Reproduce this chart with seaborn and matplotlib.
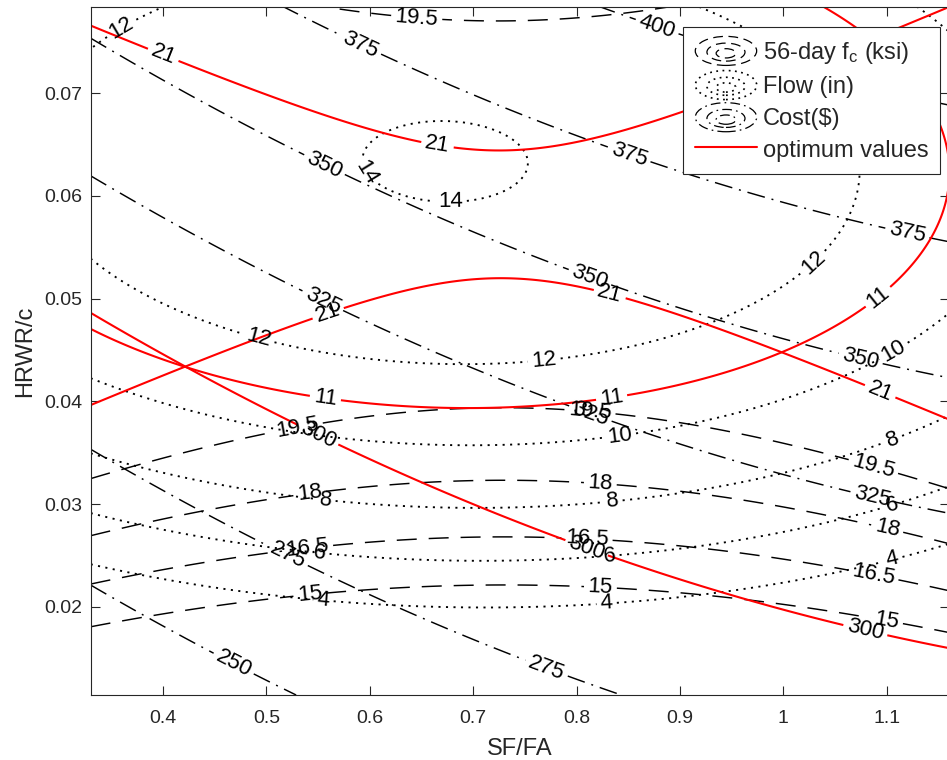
import numpy as np
import pandas as pd
import matplotlib
matplotlib.use("Agg")
import matplotlib.pyplot as plt
import seaborn as sns
from matplotlib.legend_handler import HandlerBase
from matplotlib.lines import Line2D
from matplotlib.patches import Ellipse
from matplotlib.ticker import FuncFormatter

fc_x = [0.33, 0.436, 0.561, 0.694, 0.823, 0.99, 1.10, 1.158,
        0.33, 0.436, 0.571, 0.694, 0.81, 0.861, 1.023, 1.087, 1.158,
        0.33, 0.436, 0.542, 0.713, 0.823, 0.968, 1.054, 1.10, 1.158,
        0.33, 0.513, 0.684, 0.774, 0.861, 0.958, 1.054, 1.158,
        0.564, 0.646, 0.694, 0.79, 0.823,
        0.33, 0.424, 0.581, 0.709, 0.774, 0.854, 1.0, 1.077, 1.158,
        0.33, 0.383, 0.421, 0.532, 0.645, 0.733, 0.823, 0.903, 1.112]
fc_y = [0.0180, 0.0200, 0.0216, 0.0217, 0.0219, 0.0203, 0.0186, 0.0179,
        0.0223, 0.0245, 0.0262, 0.0268, 0.0265, 0.0263, 0.0238, 0.0231, 0.0216,
        0.0268, 0.0292, 0.0309, 0.0323, 0.0320, 0.0304, 0.0281, 0.0274, 0.0262,
        0.0323, 0.0372, 0.0393, 0.0394, 0.0388, 0.0365, 0.0352, 0.0320,
        0.0783, 0.0769, 0.0768, 0.0771, 0.0783,
        0.0394, 0.0433, 0.0492, 0.0521, 0.0518, 0.0499, 0.0447, 0.0416, 0.0382,
        0.0767, 0.0745, 0.0729, 0.0687, 0.0653, 0.0643, 0.0655, 0.0681, 0.0765]
fc_v = [15] * 8 + [16.5] * 9 + [18] * 9 + [19.5] * 8 + [19.5] * 5 + [21] * 9 + [21] * 9

flow_x = [0.33, 0.516, 0.555, 0.829, 0.958, 1.054, 1.106, 1.158,
          0.33, 0.50, 0.555, 0.832, 0.861, 0.99, 1.106, 1.158,
          0.33, 0.532, 0.574, 0.816, 1.106,
          0.33, 0.436, 0.513, 0.581, 0.816, 1.054, 1.106, 1.158, 1.139,
          0.33, 0.424, 0.536, 0.687, 0.813, 0.861, 1.0, 1.074, 1.135, 1.151, 1.158, 1.035, 1.067,
          0.33, 0.423, 0.494, 0.742, 0.79, 0.939, 1.006, 1.042, 1.074, 0.919, 0.958, 0.33, 0.38,
          0.603, 0.625, 0.668, 0.72, 0.752, 0.735, 0.68, 0.625,
          0.603, 0.668, 0.752, 0.68]
flow_y = [0.0242, 0.0211, 0.0204, 0.0205, 0.0219, 0.0237, 0.0245, 0.0262,
          0.0292, 0.0258, 0.0248, 0.0247, 0.0253, 0.0268, 0.0297, 0.0316,
          0.0352, 0.0306, 0.0300, 0.0306, 0.0362,
          0.0423, 0.0391, 0.0372, 0.0362, 0.0364, 0.0424, 0.0445, 0.0484, 0.0781,
          0.0470, 0.0433, 0.0406, 0.0394, 0.0399, 0.0408, 0.0447, 0.0487, 0.0547, 0.0609, 0.0667, 0.0784, 0.0765,
          0.0538, 0.0489, 0.0460, 0.0437, 0.0442, 0.0479, 0.0515, 0.0547, 0.0618, 0.0781, 0.0766, 0.0748, 0.0778,
          0.0643, 0.0662, 0.0669, 0.0662, 0.0630, 0.0604, 0.0596, 0.0606,
          0.0643, 0.0669, 0.0630, 0.0596]
flow_v = [4] * 8 + [6] * 8 + [8] * 5 + [10] * 9 + [11] * 13 + [12] * 13 + [14] * 12

cost_x = [0.33, 0.387, 0.452, 0.532,
          0.33, 0.381, 0.436, 0.51, 0.629, 0.694, 0.771, 0.842,
          0.33, 0.424, 0.532, 0.583, 0.646, 0.713, 0.79, 0.842, 0.861, 0.948, 1.054, 1.11, 1.158,
          0.33, 0.474, 0.581, 0.777, 0.861, 1.054, 1.12, 1.158,
          0.33, 0.581, 0.765, 0.861, 1.054, 1.158,
          0.516, 0.62, 0.823, 0.874, 1.081, 1.158]
cost_y = [0.0223, 0.0190, 0.0146, 0.0115,
          0.0354, 0.0323, 0.0292, 0.0248, 0.0200, 0.0177, 0.0140, 0.0116,
          0.0487, 0.0433, 0.0377, 0.0352, 0.0323, 0.0297, 0.0265, 0.0247, 0.0240, 0.0209, 0.0183, 0.0169, 0.0159,
          0.0620, 0.0541, 0.0486, 0.0398, 0.0372, 0.0313, 0.0301, 0.0291,
          0.0755, 0.0615, 0.0538, 0.0502, 0.0447, 0.0424,
          0.0784, 0.0732, 0.0651, 0.0632, 0.0580, 0.0552]
cost_v = [250] * 4 + [275] * 8 + [300] * 13 + [325] * 8 + [350] * 6 + [375] * 6

fc_levels = [15, 16.5, 18, 19.5]
flow_levels = [4, 6, 8, 10, 12, 14]
cost_levels = [250, 275, 325, 350, 375, 400]
fc_opt, flow_opt, cost_opt = 21, 11, 300

# where the inline labels sit
fc_lab = [(0.645, 0.0769), (0.53, 0.0375), (0.813, 0.0390), (1.087, 0.0336),
          (0.542, 0.0309), (0.823, 0.0320), (1.10, 0.0274),
          (0.54, 0.0255), (0.81, 0.0265), (1.087, 0.0231),
          (0.542, 0.0211), (0.823, 0.0217), (1.10, 0.0186)]
fc_opt_lab = [(0.40, 0.0737), (0.665, 0.0647), (0.561, 0.0482), (0.832, 0.0504), (1.093, 0.0408)]
flow_lab = [(0.36, 0.0762), (0.600, 0.0625), (0.678, 0.0594), (0.492, 0.046), (0.769, 0.0438),
            (1.029, 0.0535), (0.842, 0.0365), (1.106, 0.045), (0.557, 0.0303), (0.835, 0.030),
            (1.106, 0.0362), (0.551, 0.0250), (0.832, 0.0247), (1.106, 0.0297), (0.555, 0.0204),
            (0.829, 0.0205), (1.106, 0.0245)]
flow_opt_lab = [(0.557, 0.0403), (0.834, 0.0403), (1.093, 0.050)]
cost_lab = [(0.59, 0.0745), (0.849, 0.0635), (1.12, 0.0564), (0.555, 0.0628), (0.813, 0.0521),
            (1.074, 0.0438), (0.555, 0.0499), (0.813, 0.0387), (1.086, 0.0306), (0.877, 0.0762),
            (0.523, 0.0255), (0.771, 0.014), (0.468, 0.0144)]
cost_opt_lab = [(0.552, 0.0372), (0.81, 0.0258), (1.08, 0.018)]


def fit_surface(xs, ys, vs):
    # second order response surface through the read points
    d = pd.DataFrame({"x": xs, "y": ys, "v": vs})
    u = (d.x - 0.75) / 0.4
    w = (d.y - 0.045) / 0.034
    A = np.column_stack([np.ones(len(d)), u, w, u * u, u * w, w * w])
    coef, *_ = np.linalg.lstsq(A, d.v.values, rcond=None)
    return coef


def surface(coef, X, Y):
    u = (X - 0.75) / 0.4
    w = (Y - 0.045) / 0.034
    return coef[0] + coef[1] * u + coef[2] * w + coef[3] * u * u + coef[4] * u * w + coef[5] * w * w


sns.set_style("ticks")
plt.rcParams["font.family"] = ["Liberation Sans", "DejaVu Sans"]
plt.rcParams["mathtext.default"] = "regular"
plt.rcParams["lines.scale_dashes"] = False

xg = np.linspace(0.33, 1.16, 400)
yg = np.linspace(0.0114, 0.0785, 400)
X, Y = np.meshgrid(xg, yg)
FC = surface(fit_surface(fc_x, fc_y, fc_v), X, Y)
FLOW = surface(fit_surface(flow_x, flow_y, flow_v), X, Y)
COST = surface(fit_surface(cost_x, cost_y, cost_v), X, Y)

ls_fc = (0, (14.4, 8.6))
ls_flow = (0, (1.5, 3.9))
ls_cost = (0, (13, 5, 1.4, 5))
red = "#ff0000"

fig = plt.figure(figsize=(9.47, 7.6), dpi=100)
ax = fig.add_axes([90.7 / 947, 65 / 760, 858 / 947, 688 / 760])

lab_kw = dict(inline=True, fontsize=16, fmt="%g", colors="black", inline_spacing=4)

c1 = ax.contour(X, Y, FC, levels=fc_levels, colors="black", linewidths=1.05, linestyles=[ls_fc])
ax.clabel(c1, manual=fc_lab, **lab_kw)
c2 = ax.contour(X, Y, FLOW, levels=flow_levels, colors="black", linewidths=1.35, linestyles=[ls_flow])
ax.clabel(c2, manual=flow_lab, **lab_kw)
c3 = ax.contour(X, Y, COST, levels=cost_levels, colors="black", linewidths=1.05, linestyles=[ls_cost])
ax.clabel(c3, manual=cost_lab, **lab_kw)

o1 = ax.contour(X, Y, FC, levels=[fc_opt], colors=red, linewidths=1.5, linestyles="solid")
ax.clabel(o1, manual=fc_opt_lab, **lab_kw)
o2 = ax.contour(X, Y, FLOW, levels=[flow_opt], colors=red, linewidths=1.5, linestyles="solid")
ax.clabel(o2, manual=flow_opt_lab, **lab_kw)
o3 = ax.contour(X, Y, COST, levels=[cost_opt], colors=red, linewidths=1.5, linestyles="solid")
ax.clabel(o3, manual=cost_opt_lab, **lab_kw)

ax.set_xlim(0.33, 1.16)
ax.set_ylim(0.0114, 0.0784)
ax.set_xticks(np.arange(0.4, 1.15, 0.1))
ax.set_yticks(np.arange(0.02, 0.075, 0.01))
fmt = FuncFormatter(lambda v, p: "%g" % round(v, 3))
ax.xaxis.set_major_formatter(fmt)
ax.yaxis.set_major_formatter(fmt)
ax.tick_params(direction="in", top=True, right=True, length=6.5, width=0.8,
               colors="#262626", labelsize=14, pad=6)
ax.tick_params(axis="x", pad=11)
for s in ax.spines.values():
    s.set_color("#262626")
    s.set_linewidth(0.8)
ax.set_xlabel("SF/FA", fontsize=17, color="#262626", labelpad=8)
ax.set_ylabel("HRWR/c", fontsize=17, color="#262626", labelpad=6)


class RingHandler(HandlerBase):
    def __init__(self, ls, lw=0.9):
        super().__init__()
        self.ls = ls
        self.lw = lw

    def create_artists(self, legend, orig, xd, yd, width, height, fontsize, trans):
        cx, cy = width / 2 - xd, height / 2 - yd
        out = []
        for s, dy in [(1.0, 0.0), (0.62, -0.05), (0.32, -0.1)]:
            out.append(Ellipse((cx, cy + dy * height), width * s, height * 1.2 * s, fill=False,
                               edgecolor="black", linewidth=self.lw, linestyle=self.ls,
                               transform=trans))
        return out


h_fc = Line2D([], [], color="black")
h_flow = Line2D([], [], color="black")
h_cost = Line2D([], [], color="black")
h_opt = Line2D([], [], color=red, linewidth=1.5)
leg = ax.legend([h_fc, h_flow, h_cost, h_opt],
                ["56-day f$_c$ (ksi)", "Flow (in)", "Cost($)", "optimum values"],
                handler_map={h_fc: RingHandler((0, (7, 4))), h_flow: RingHandler((0, (1.3, 3.2)), 1.2),
                             h_cost: RingHandler((0, (7, 3, 1.2, 3)))},
                loc="upper right", bbox_to_anchor=(940 / 947, 1 - 27 / 760),
                bbox_transform=fig.transFigure, borderaxespad=0, fontsize=17,
                handlelength=2.6, handleheight=1.2, handletextpad=0.25, labelspacing=0.3,
                borderpad=0.5, fancybox=False, framealpha=1, edgecolor="#262626")
leg.get_frame().set_linewidth(0.8)

fig.savefig("out.png", dpi=100)
